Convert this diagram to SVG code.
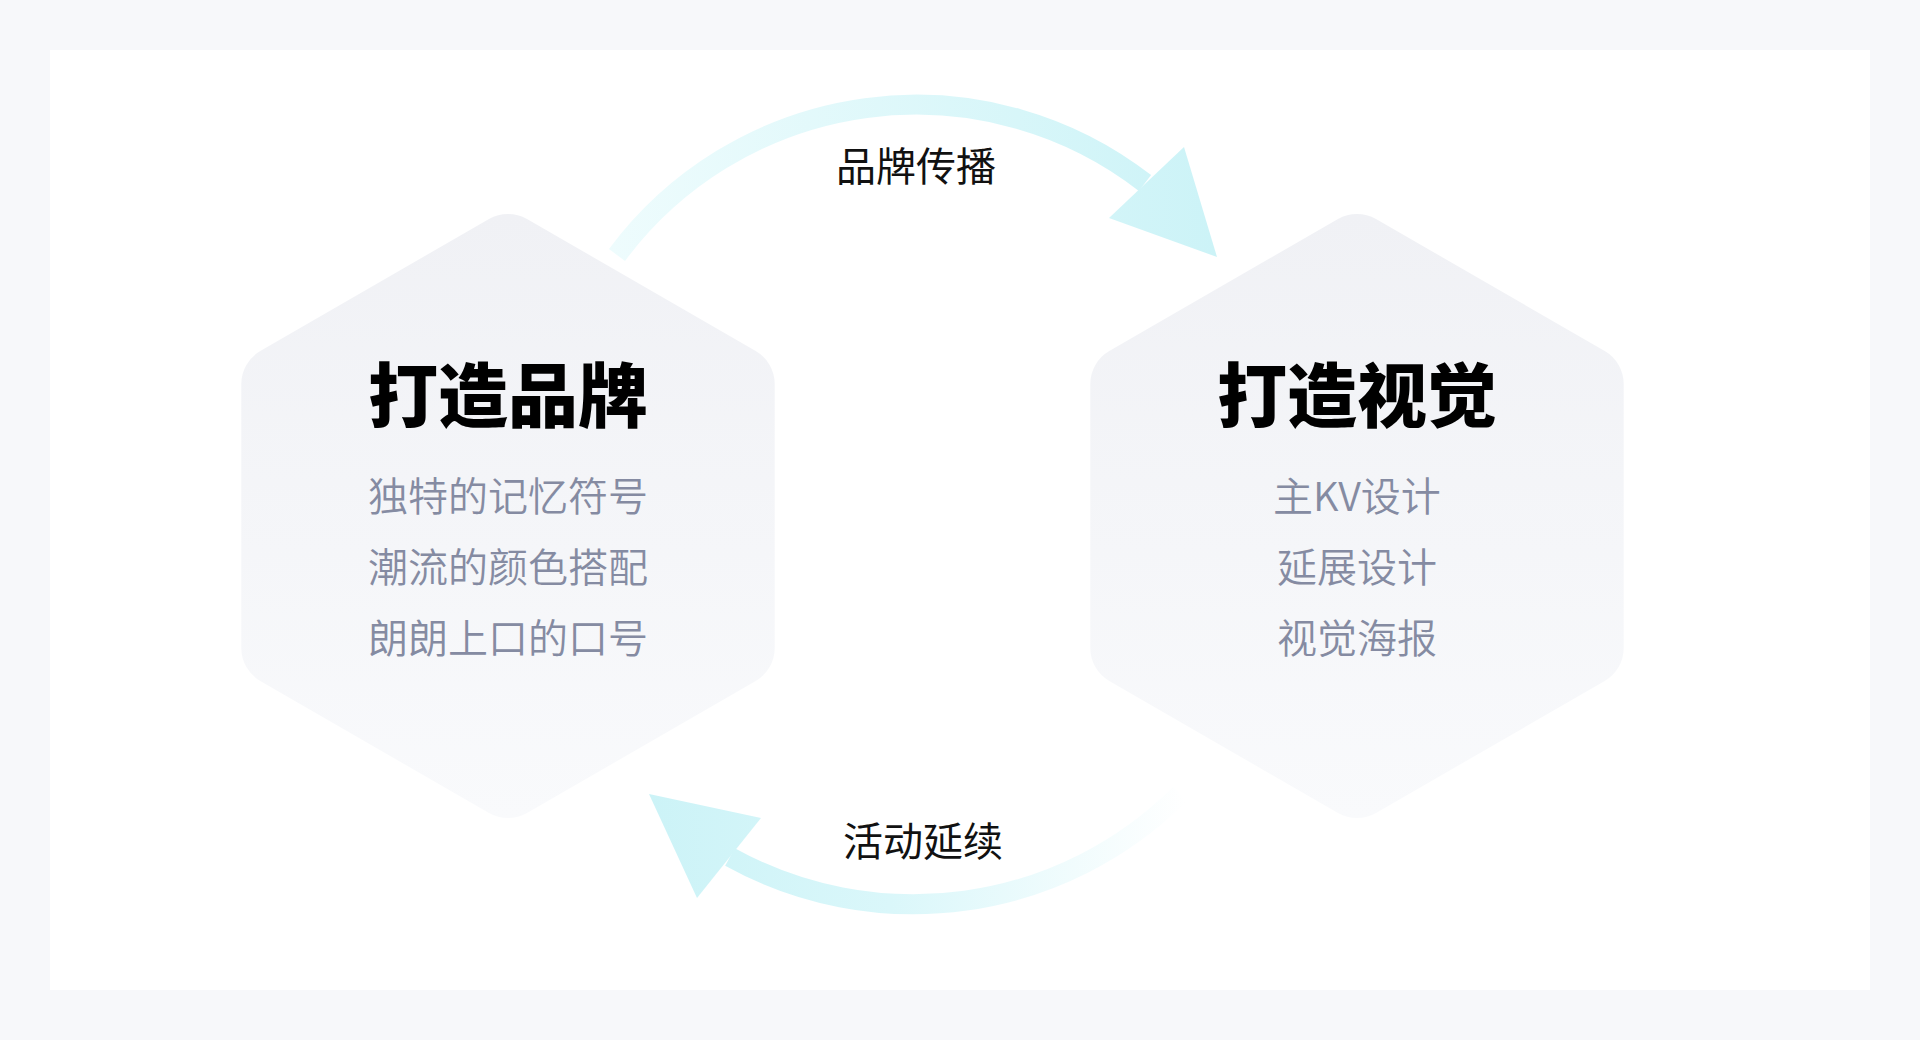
<svg xmlns="http://www.w3.org/2000/svg" width="1920" height="1040" viewBox="0 0 1920 1040">
  <defs>
    <linearGradient id="hexFill" x1="0" y1="0" x2="0" y2="1">
      <stop offset="0" stop-color="#f0f1f5"/>
      <stop offset="1" stop-color="#f9fafc"/>
    </linearGradient>
    <linearGradient id="topArrow" gradientUnits="userSpaceOnUse" x1="610" y1="0" x2="1217" y2="0">
      <stop offset="0" stop-color="#eefcfd"/>
      <stop offset="1" stop-color="#ccf3f7"/>
    </linearGradient>
    <linearGradient id="bottomArrow" gradientUnits="userSpaceOnUse" x1="649" y1="0" x2="1185" y2="0">
      <stop offset="0" stop-color="#ccf3f7"/>
      <stop offset="0.45" stop-color="#daf7fa"/>
      <stop offset="1" stop-color="#ffffff"/>
    </linearGradient>
    <path id="hex" d="M19,-297.03 L247.7,-164.97 A38,38 0 0 1 266.7,-132.06 L266.7,132.06 A38,38 0 0 1 247.7,164.97 L19,297.03 A38,38 0 0 1 -19,297.03 L-247.7,164.97 A38,38 0 0 1 -266.7,132.06 L-266.7,-132.06 A38,38 0 0 1 -247.7,-164.97 L-19,-297.03 A38,38 0 0 1 19,-297.03 Z"/>
  </defs>
  <style>
    .hex { fill: url(#hexFill); }
    .title { font-family: "Noto Sans CJK SC", "Noto Sans", sans-serif; font-size: 70px; font-weight: 900; fill: #000000; text-anchor: middle; }
    .sub { font-family: "Noto Sans CJK SC", "Noto Sans", sans-serif; font-size: 40px; font-weight: 350; fill: #858ba2; text-anchor: middle; }
    .label { font-family: "Noto Sans CJK SC", "Noto Sans", sans-serif; font-size: 40px; font-weight: 400; fill: #111111; text-anchor: middle; }
  </style>

  <rect x="0" y="0" width="1920" height="1040" fill="#f7f8fa"/>
  <rect x="50" y="50" width="1820" height="940" fill="#ffffff"/>

  <g id="node-brand">
    <use href="#hex" class="hex" transform="translate(508,516)"/>
    <text class="title" x="508" y="422">打造品牌</text>
    <text class="sub" x="508" y="511">独特的记忆符号</text>
    <text class="sub" x="508" y="582">潮流的颜色搭配</text>
    <text class="sub" x="508" y="653">朗朗上口的口号</text>
  </g>

  <g id="node-visual">
    <use href="#hex" class="hex" transform="translate(1357,516)"/>
    <text class="title" x="1357" y="422">打造视觉</text>
    <text class="sub" x="1357" y="511">主KV设计</text>
    <text class="sub" x="1357" y="582">延展设计</text>
    <text class="sub" x="1357" y="653">视觉海报</text>
  </g>

  <g id="connectors">
    <g id="edge-brand-visual">
      <path d="M617,255 A373,373 0 0 1 1145,183" fill="none" stroke="url(#topArrow)" stroke-width="20"/>
      <polygon points="1217,257 1184,147 1109,218" fill="url(#topArrow)"/>
      <text class="label" x="916" y="181">品牌传播</text>
    </g>
    <g id="edge-visual-brand">
      <path d="M1180,794 A378,378 0 0 1 730,857" fill="none" stroke="url(#bottomArrow)" stroke-width="20"/>
      <polygon points="649,794 761,818 697,898" fill="url(#bottomArrow)"/>
      <text class="label" x="923" y="856">活动延续</text>
    </g>
  </g>
</svg>
